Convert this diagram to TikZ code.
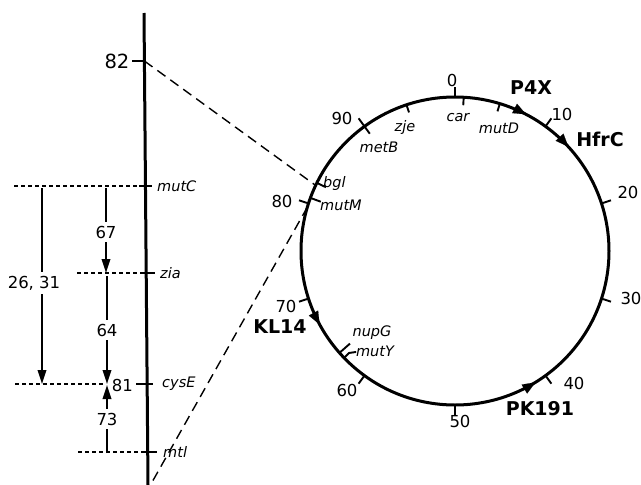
\documentclass[tikz,border=0pt]{standalone}
\usepackage{fontspec}
\setmainfont{DejaVu Sans}
\usetikzlibrary{arrows.meta,calc}
\begin{document}
\begin{tikzpicture}[x=1pt,y=-1pt,
  num/.style={font=\fontsize{16.5}{18}\selectfont, inner sep=0pt},
  bignum/.style={font=\fontsize{19.5}{21}\selectfont, inner sep=0pt},
  brk/.style={font=\fontsize{16.5}{18}\selectfont, inner sep=0pt, outer sep=4pt},
  gene/.style={font=\fontsize{14.5}{16}\selectfont\itshape, inner sep=0pt},
  strain/.style={font=\fontsize{19}{21}\selectfont\bfseries, inner sep=0pt},
  mainline/.style={line width=3pt},
  tickline/.style={line width=1.9pt},
  longdash/.style={line width=1.4pt, dash pattern=on 10pt off 6pt},
  shortdash/.style={line width=1.4pt, dash pattern=on 4pt off 3pt},
  dist/.style={line width=1.9pt},
  disttip/.style={-{Triangle[length=14pt,width=8.5pt]}},
  circtip/.style={line width=0.1pt, -{Triangle[length=13pt,width=10.5pt]}},
]
\useasboundingbox (0,0) rectangle (641,485);
\def\R{154}
\coordinate (C) at (455,251);

% ---------- left linear map ----------
\coordinate (Ltop) at (144,13);
\coordinate (Lbot) at (148,485);
\draw[mainline] (Ltop) -- (Lbot);

\coordinate (L82) at (144.4,61);
\coordinate (LmutC) at (145.5,186);
\coordinate (Lzia) at (146.2,273);
\coordinate (LcysE) at (147.1,384);
\coordinate (Lmtl) at (147.7,452);

\coordinate (T82a) at (132,61);
\coordinate (TmutCa) at (139,186);   \coordinate (TmutCb) at (152,186);
\coordinate (Tziaa) at (141,273);    \coordinate (Tziab) at (155,273);
\coordinate (TcysEa) at (136,384);   \coordinate (TcysEb) at (153,384);
\coordinate (Tmtla) at (143,452);    \coordinate (Tmtlb) at (157,452);
\draw[tickline] (T82a) -- (L82);
\draw[tickline] (TmutCa) -- (TmutCb);
\draw[tickline] (Tziaa) -- (Tziab);
\draw[tickline] (TcysEa) -- (TcysEb);
\draw[tickline] (Tmtla) -- (Tmtlb);

\node[bignum] (n82) at (117,61) {82};
\node[gene, anchor=west] (lmutC) at (157,186) {mutC};
\node[gene, anchor=west] (lzia) at (160,273) {zia};
\node[num, anchor=east] (n81) at (133,385) {81};
\node[gene, anchor=west] (lcysE) at (162,384) {cysE};
\node[gene, anchor=west] (lmtl) at (163,452) {mtl};

% horizontal dashed guide lines
\coordinate (HmutC) at (14,186);
\coordinate (Hzia) at (77,273);
\coordinate (HcysE) at (15,384);
\coordinate (HcysEe) at (104,384);
\coordinate (Hmtl) at (78,452);
\draw[shortdash] (HmutC) -- (LmutC);
\draw[shortdash] (Hzia) -- (Lzia);
\draw[shortdash] (HcysE) -- (HcysEe);
\draw[shortdash] (Hmtl) -- (Lmtl);

% distance arrows
\coordinate (a1s) at (42,188);
\coordinate (a1e) at (42,384);
\node[brk] (l2631) at (34,283) {26, 31};
\draw[dist] (a1s) -- (a1s |- l2631.north);
\draw[dist, disttip] (a1e |- l2631.south) -- (a1e);

\coordinate (a2s) at (106,188);
\coordinate (a2e) at (106,273);
\node[brk] (l67) at (106,232) {67};
\draw[dist] (a2s) -- (a2s |- l67.north);
\draw[dist, disttip] (a2e |- l67.south) -- (a2e);

\coordinate (a3s) at (107,276);
\coordinate (a3e) at (107,384);
\node[brk] (l64) at (107,330) {64};
\draw[dist] (a3s) -- (a3s |- l64.north);
\draw[dist, disttip] (a3e |- l64.south) -- (a3e);

\coordinate (a4s) at (107,453);
\coordinate (a4e) at (107,385);
\node[brk] (l73) at (107,419) {73};
\draw[dist] (a4s) -- (a4s |- l73.south);
\draw[dist, disttip] (a4e |- l73.north) -- (a4e);

% ---------- circular map ----------
\draw[mainline] (C) circle[radius=\R];

% minute ticks (outward)
\foreach \p in {0,10,...,90} {
  \coordinate (t\p) at ($(C)+({3.6*\p-90}:\R)$);
  \coordinate (u\p) at ($(C)+({3.6*\p-90}:{\R+10})$);
  \draw[tickline] (t\p) -- (u\p);
}

% gene ticks (inward)
\foreach \gname/\p/\len in {car/0.9/8, mutD/4.7/8, zje/94.9/8, metB/90/9, bgl/82.3/10, mutM/80.6/11, nupG/63.5/14} {
  \coordinate (g\gname) at ($(C)+({3.6*\p-90}:\R)$);
  \coordinate (h\gname) at ($(C)+({3.6*\p-90}:{\R-\len})$);
  \draw[tickline] (g\gname) -- (h\gname);
}
\coordinate (gmutY) at ($(C)+({3.6*62.8-90}:\R)$);
\coordinate (hmutY) at ($(C)+({3.6*62.8-90}:{\R-7})$);
\coordinate (kmutY) at ($(hmutY)+(7,-1)$);
\draw[tickline] (gmutY) -- (hmutY) -- (kmutY);

% minute labels
\node[num] (m0)  at (452,80)  {0};
\node[num] (m10) at (562,114) {10};
\node[num] (m20) at (628,192) {20};
\node[num] (m30) at (631,298) {30};
\node[num] (m40) at (574,383) {40};
\node[num] (m50) at (460,421) {50};
\node[num] (m60) at (347,390) {60};
\node[num] (m70) at (286,306) {70};
\node[num] (m80) at (282,201) {80};
\node[num] (m90) at (342,118) {90};

% gene labels
\node[gene] (lcar)  at (458,118) {car};
\node[gene] (lmutD) at (499,128) {mutD};
\node[gene] (lzje)  at (405,127) {zje};
\node[gene] (lmetB) at (379,147) {metB};
\node[gene, anchor=west] (lbgl)  at (323,183) {bgl};
\node[gene, anchor=west] (lmutM) at (320,205) {mutM};
\node[gene] (lnupG) at (372,333) {nupG};
\node[gene] (lmutY) at (375,351) {mutY};

% transfer-origin arrows on the circle
\draw[circtip] ($(C)+(-70:\R)$) arc[start angle=-70, end angle=-62.5, radius=\R];
\draw[circtip] ($(C)+(-50:\R)$) arc[start angle=-50, end angle=-42.6, radius=\R];
\draw[circtip] ($(C)+(66:\R)$) arc[start angle=66, end angle=58.5, radius=\R];
\draw[circtip] ($(C)+(159:\R)$) arc[start angle=159, end angle=151.5, radius=\R];

\node[strain] (sP4X)  at (531,88)  {P4X};
\node[strain] (sHfrC) at (600,139) {HfrC};
\node[strain] (sPK)   at (540,409) {PK191};
\node[strain] (sKL)   at (280,327) {KL14};

% expansion dashed lines
\coordinate (c82) at ($(C)+({3.6*82-90}:\R)$);
\coordinate (c80) at ($(C)+({3.6*79.6-90}:\R)$);
\coordinate (dEnd) at (151,484);
\draw[longdash] (L82) -- (c82);
\draw[longdash] (c80) -- (dEnd);
\end{tikzpicture}
\end{document}
